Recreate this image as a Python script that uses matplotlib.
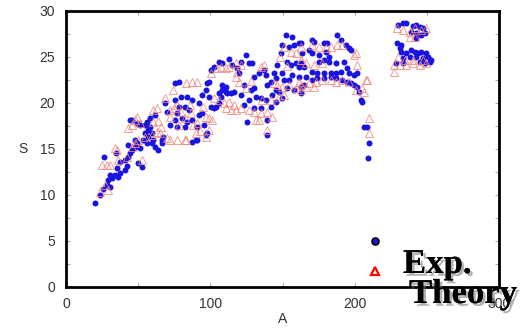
import matplotlib
matplotlib.use("Agg")
import matplotlib.pyplot as plt
import matplotlib.patheffects as pe
from matplotlib.ticker import MultipleLocator

# measured values (A, S)
exp_A = [
    20.0, 23.4, 25.5, 28.3, 30.3, 29.0, 31.7, 26.2, 30.3, 33.8, 35.9, 37.2, 35.2, 40.7, 42.1,
    37.2, 40.7, 42.8, 44.1, 45.5, 49.7, 52.4, 47.6, 49.0, 51.0, 42.8, 47.6, 53.1, 55.9, 56.6,
    59.3, 60.0, 61.4, 63.4, 66.2, 66.9, 45.5, 49.0, 51.0, 54.5, 59.3, 55.9, 57.9, 61.4, 68.3,
    54.5, 56.6, 34.5, 44.1, 57.9,
    75.2, 78.6, 75.2, 80.0, 84.1, 87.6, 70.3, 76.6, 78.6, 82.1, 85.5, 75.2, 80.7, 84.1, 87.6,
    71.7, 77.2, 82.1, 92.4, 94.5, 97.2, 97.9, 99.3, 99.3, 100.7, 102.8, 104.1, 106.2, 107.6,
    106.2, 108.3, 111.0, 111.7, 114.5, 108.3, 111.0, 95.9, 97.9, 90.3, 87.6, 91.0, 92.4, 94.5,
    106.2, 108.3, 115.2, 102.8, 66.2, 100.7, 113.1, 121.4, 97.2, 91.0,
    152.4, 156.6, 149.7, 154.5, 157.9, 161.4, 149.0, 124.8, 126.9, 129.0, 118.6, 120.0, 146.2,
    153.1, 155.9, 159.3, 161.4, 130.3, 133.8, 137.2, 138.6, 144.1, 145.5, 149.7, 151.0, 154.5,
    156.6, 161.4, 123.4, 128.3, 130.3, 139.3, 142.1, 116.6, 121.4, 126.9, 131.7, 135.2, 138.6,
    142.8, 145.5, 147.6, 153.1, 157.9, 162.8, 123.4, 130.3, 135.2, 142.1, 125.5, 139.3, 139.3,
    145.5, 149.7,
    162.8, 170.3, 171.7, 178.6, 180.7, 187.6, 190.3, 193.8, 195.9, 197.2, 163.4, 168.3, 170.3,
    175.2, 180.0, 182.1, 175.2, 178.6, 182.1, 186.9, 192.4, 194.5, 162.8, 164.8, 170.3, 173.8,
    178.6, 183.4, 186.9, 190.3, 195.9, 199.3, 201.4, 166.2, 170.3, 173.8, 178.6, 183.4, 186.9,
    191.0, 194.5, 197.2, 199.3, 201.4, 202.8, 162.8, 164.8, 204.1, 204.8, 206.2, 208.3, 209.7,
    209.0,
    230.3, 233.8, 235.9, 240.7, 242.8, 245.5, 247.6, 239.3, 242.8, 246.2, 249.0, 242.8, 229.0,
    232.4, 231.7, 232.4, 235.9, 239.3, 242.1, 244.1, 246.2, 249.7, 233.8, 238.6, 242.8, 247.6,
    251.0, 253.1, 228.3, 233.8, 245.5, 249.0, 252.4,
]
exp_S = [
    9.1, 10.0, 10.7, 11.1, 10.9, 11.6, 11.8, 14.1, 12.2, 12.2, 12.0, 12.4, 12.9, 12.7, 13.2,
    13.6, 13.8, 14.1, 14.6, 14.9, 13.5, 13.0, 15.2, 15.7, 15.1, 15.4, 16.0, 16.0, 15.7, 16.3,
    15.7, 16.0, 15.2, 14.9, 16.0, 16.3, 18.2, 17.8, 17.6, 17.6, 16.7, 17.9, 18.4, 18.7, 20.0,
    16.7, 17.1, 14.6, 18.2, 17.4,
    22.2, 22.3, 20.3, 20.7, 20.7, 20.3, 19.0, 18.9, 19.6, 19.6, 19.2, 18.2, 18.4, 17.9, 18.2,
    17.6, 17.4, 17.4, 20.0, 20.9, 21.4, 22.2, 22.3, 20.7, 19.6, 19.5, 19.6, 20.0, 20.7,
    21.1, 21.4, 21.2, 21.1, 21.1, 22.0, 21.7, 17.6, 16.7, 16.0, 15.8, 17.4, 18.7, 18.9,
    24.5, 24.3, 24.1, 23.9, 15.7, 23.6, 24.8, 24.5, 16.5, 16.0,
    27.4, 27.2, 26.3, 26.1, 26.3, 26.5, 25.4, 25.2, 24.3, 24.3, 23.8, 23.3, 24.1,
    24.5, 24.1, 24.3, 23.9, 22.8, 23.3, 23.6, 23.0, 23.3, 22.7, 23.3, 22.5, 22.5,
    23.0, 22.8, 22.0, 21.4, 21.6, 22.0, 22.3, 21.2, 20.9, 20.3, 20.7, 20.5, 20.3,
    20.9, 21.4, 21.2, 21.6, 21.4, 21.1, 19.8, 19.5, 19.5, 19.6, 17.9, 18.2, 16.5,
    20.1, 20.5,
    26.5, 26.8, 26.6, 26.5, 26.5, 27.4, 26.8, 26.3, 26.0, 25.8, 25.4, 25.8, 25.4,
    25.2, 25.5, 25.0, 24.5, 24.7, 24.5, 24.3, 24.5, 23.8, 24.3, 23.9, 23.4, 23.3,
    23.3, 23.3, 23.3, 23.4, 23.3, 23.0, 23.3, 22.8, 22.5, 22.7, 22.7, 22.8, 22.7,
    22.5, 22.3, 22.2, 22.0, 21.7, 21.2, 21.7, 22.0, 20.3, 20.1, 17.4, 17.4, 15.7,
    14.0,
    28.5, 28.7, 28.7, 28.4, 28.5, 28.3, 28.2, 27.7, 27.6, 27.4, 27.6, 27.1, 26.5,
    26.3, 26.0, 25.5, 25.4, 25.8, 25.5, 25.4, 25.5, 25.4, 24.9, 25.0, 25.0, 24.9,
    25.0, 24.7, 24.3, 24.3, 24.5, 24.3, 24.5,
]

# model values (A, S)
thy_A = [
    24.8, 28.3, 30.3, 35.2, 35.9, 42.1, 42.8, 47.6, 51.0, 60.0, 62.8, 60.0, 52.4, 23.4, 26.9,
    29.0, 45.5, 47.6, 49.7, 54.5, 59.3, 62.8, 64.8, 33.8, 45.5, 49.0, 68.3, 66.0, 64.0,
    73.8, 83.4, 87.6, 91.0, 77.2, 82.1, 71.7, 97.2, 99.3, 101.4, 102.8, 106.2, 109.7, 113.1,
    116.6, 111.0, 114.5, 117.9, 100.7, 104.8, 111.0, 97.2, 99.3, 69.7, 71.7, 77.2, 82.1, 86.9,
    91.0, 78.6, 72.0, 75.0, 80.0, 86.0, 88.0, 93.0, 95.0, 83.4, 90.3, 107.6, 113.1, 118.6,
    117.9, 121.4, 135.2, 137.2, 151.0, 155.9, 159.3, 162.8, 117.9, 120.0, 144.1, 146.2, 149.7,
    154.5, 160.0, 162.8, 151.0, 147.6, 142.1, 135.9, 121.4, 126.9, 130.3, 135.2, 139.3, 142.8,
    131.7, 133.8, 139.3, 125.0, 128.0, 148.0, 153.0,
    162.8, 170.3, 175.2, 180.0, 183.4, 187.6, 191.0, 200.7, 201.4, 162.8, 166.2, 171.7, 177.2,
    161.4, 168.3, 173.1, 177.2, 183.4, 186.9, 191.0, 195.9, 162.8, 166.2, 171.7, 200.7, 204.8,
    208.3, 206.2, 209.7, 209.7, 199.3, 207.6,
    229.0, 233.8, 238.6, 242.1, 246.2, 249.7, 238.6, 242.1, 230.3, 235.2, 240.7, 247.6, 226.9,
    231.7, 235.9, 240.7, 245.5, 249.7, 226.9,
]
thy_S = [
    13.3, 13.3, 13.3, 14.9, 13.8, 14.1, 17.3, 18.2, 17.8, 19.2, 19.5, 17.9, 13.8, 10.3, 11.1,
    10.5, 15.2, 15.7, 16.0, 16.3, 16.5, 16.8, 16.7, 15.1, 17.6, 18.5, 20.5, 17.4, 18.0,
    21.4, 22.2, 22.3, 22.3, 16.0, 16.0, 16.0, 18.5, 18.4, 18.2, 20.5, 20.3, 20.0, 20.1,
    19.8, 19.5, 19.2, 19.2, 23.3, 23.8, 23.8, 16.3, 17.1, 16.2, 19.2, 19.8, 18.4, 18.9,
    17.8, 17.6, 18.5, 19.5, 19.0, 19.8, 17.6, 17.0, 19.6, 16.0, 16.7, 23.9, 23.9, 23.4,
    24.3, 24.1, 23.9, 24.1, 26.1, 25.5, 25.4, 24.7, 22.8, 22.3, 22.2, 22.0, 21.7,
    22.0, 21.6, 22.0, 20.9, 20.7, 20.3, 20.3, 19.5, 19.2, 19.0, 18.9, 19.0, 18.5,
    18.2, 18.2, 17.1, 21.6, 22.4, 25.0, 24.0,
    26.1, 26.3, 26.1, 26.0, 26.1, 26.3, 26.3, 25.4, 24.1, 24.7, 24.3, 24.1, 24.3,
    22.3, 22.2, 22.3, 22.5, 22.5, 22.3, 22.5, 22.3, 21.4, 21.7, 21.7, 21.4, 21.6,
    22.5, 21.2, 18.4, 16.7, 25.2, 22.5,
    28.2, 27.9, 27.7, 28.2, 27.9, 28.2, 27.2, 27.2, 25.0, 24.7, 24.7, 24.7, 24.1,
    24.1, 24.1, 24.3, 24.1, 24.3, 23.4,
]

plt.rcParams["font.family"] = ["Liberation Sans", "DejaVu Sans"]

fig = plt.figure(figsize=(5.26, 3.28), dpi=100)
ax = fig.add_axes([0.1255, 0.125, 0.8232, 0.8415])

ax.plot(exp_A, exp_S, "o", ms=4.3, color="#1a14e0", mec="none", zorder=2)
ax.plot(thy_A, thy_S, "^", ms=5.5, mfc="none", mec="#f2867c", mew=0.7, alpha=0.8, zorder=3)

ax.set_xlim(0, 300)
ax.set_ylim(0, 30)
ax.xaxis.set_major_locator(MultipleLocator(100))
ax.xaxis.set_minor_locator(MultipleLocator(50))
ax.yaxis.set_major_locator(MultipleLocator(5))
ax.yaxis.set_minor_locator(MultipleLocator(2.5))
ax.tick_params(which="both", direction="in", top=True, right=True,
               length=3, width=0.8, color="#aaaaaa")
ax.tick_params(axis="x", pad=7, labelsize=10, labelcolor="#333333")
ax.tick_params(axis="y", pad=8, labelsize=10, labelcolor="#333333")
for sp in ax.spines.values():
    sp.set_linewidth(2.0)
    sp.set_color("black")

ax.set_xlabel("A", fontsize=10, color="#333333", labelpad=1)
ax.set_ylabel("S", fontsize=10, color="#333333", rotation=0, labelpad=12, va="center")

# key symbols with large serif captions
ax.plot([0.714], [0.167], "o", ms=5, color="#1a14e0", mec="black", mew=1.2,
        transform=ax.transAxes, clip_on=False)
ax.plot([0.714], [0.058], "^", ms=5.5, mfc="white", mec="red", mew=1.6,
        transform=ax.transAxes, clip_on=False)
shadow = [pe.withSimplePatchShadow(offset=(2, -2), shadow_rgbFace="0.45", alpha=0.55),
          pe.Normal()]
fig.text(403 / 526, 1 - 273 / 328, "Exp.", family="Liberation Serif", weight="bold",
         fontsize=25, color="black", path_effects=shadow)
fig.text(409 / 526, 1 - 303 / 328, "Theory", family="Liberation Serif", weight="bold",
         fontsize=25, color="black", path_effects=shadow)

fig.savefig("out.png", dpi=100, facecolor="white")
